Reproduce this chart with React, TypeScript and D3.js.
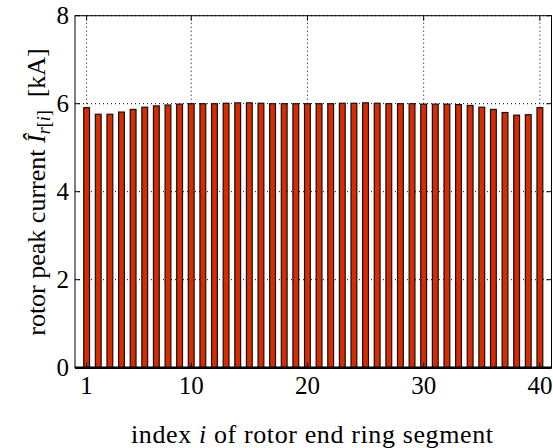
import React from "react";
import * as d3 from "d3";

const segments: number[] = d3.range(1, 41);
const peakCurrent: number[] = [
  5.91, 5.76, 5.76, 5.81, 5.87, 5.92, 5.95, 5.97, 5.99, 6.0,
  6.0, 6.0, 6.01, 6.02, 6.02, 6.01, 6.0, 6.0, 6.0, 6.0,
  6.0, 6.0, 6.01, 6.01, 6.02, 6.01, 6.0, 6.0, 6.0, 5.99,
  5.99, 5.99, 5.98, 5.96, 5.92, 5.87, 5.8, 5.74, 5.75, 5.91,
];
const xTicks: number[] = [1, 10, 20, 30, 40];
const yTicks: number[] = [0, 2, 4, 6, 8];

const W = 553;
const H = 448;
const M = { left: 75, right: 1.5, top: 15.7, bottom: 80.3 };
const FONT = "'Liberation Serif', 'DejaVu Serif', serif";

export default function App() {
  const x = d3.scaleLinear().domain([0, 41]).range([M.left, W - M.right]);
  const y = d3.scaleLinear().domain([0, 8]).range([H - M.bottom, M.top]);
  const bw = (x(1) - x(0)) * 0.5;
  const x0 = M.left, x1 = W - M.right, y0 = H - M.bottom, y1 = M.top;
  return (
    <svg width={W} height={H} style={{ position: "absolute", left: 0, top: 0, background: "#fff" }}>
      <rect x={0} y={0} width={W} height={H} fill="#fff" />
      {/* grid */}
      {xTicks.map((t) => (
        <line key={"gx" + t} x1={x(t)} x2={x(t)} y1={y0} y2={y1} stroke="#000" strokeWidth={1} strokeDasharray="1,3" />
      ))}
      {yTicks.map((t) => (
        <line key={"gy" + t} x1={x0} x2={x1} y1={y(t)} y2={y(t)} stroke="#000" strokeWidth={1} strokeDasharray="1,3" />
      ))}
      {/* bars */}
      {segments.map((s, i) => (
        <rect
          key={"b" + s}
          x={x(s) - bw / 2}
          y={y(peakCurrent[i])}
          width={bw}
          height={y(0) - y(peakCurrent[i])}
          fill="#d92b00"
          stroke="#111"
          strokeWidth={1.2}
        />
      ))}
      {/* ticks */}
      {xTicks.map((t) => (
        <g key={"tx" + t}>
          <line x1={x(t)} x2={x(t)} y1={y0} y2={y0 - 5} stroke="#000" />
          <line x1={x(t)} x2={x(t)} y1={y1} y2={y1 + 5} stroke="#000" />
          <text x={x(t)} y={394} textAnchor="middle" fontFamily={FONT} fontSize={25}>{t}</text>
        </g>
      ))}
      {yTicks.map((t) => (
        <g key={"ty" + t}>
          <line x1={x0} x2={x0 + 5} y1={y(t)} y2={y(t)} stroke="#000" />
          <line x1={x1} x2={x1 - 5} y1={y(t)} y2={y(t)} stroke="#000" />
          <text x={69} y={y(t) + 8} textAnchor="end" fontFamily={FONT} fontSize={25}>{t}</text>
        </g>
      ))}
      {/* box */}
      <rect x={x0} y={y1} width={x1 - x0} height={y0 - y1} fill="none" stroke="#000" strokeWidth={1} />
      <line x1={x0} x2={x1} y1={y0} y2={y0} stroke="#000" strokeWidth={2.5} />
      {/* labels */}
      <text x={312} y={443} textAnchor="middle" fontFamily={FONT} fontSize={26} textLength={362} lengthAdjust="spacing">
        index <tspan fontStyle="italic">i</tspan> of rotor end ring segment
      </text>
      <text transform={`translate(45, 192) rotate(-90)`} textAnchor="middle" fontFamily={FONT} fontSize={26}>
        rotor peak current{" "}
        <tspan fontStyle="italic">Î</tspan>
        <tspan fontStyle="italic" fontSize={18} dy={5}>r</tspan>
        <tspan fontSize={18}>[</tspan>
        <tspan fontStyle="italic" fontSize={18}>i</tspan>
        <tspan fontSize={18}>]</tspan>
        <tspan dy={-5}>{"\u00a0\u00a0"}[kA]</tspan>
      </text>
    </svg>
  );
}
